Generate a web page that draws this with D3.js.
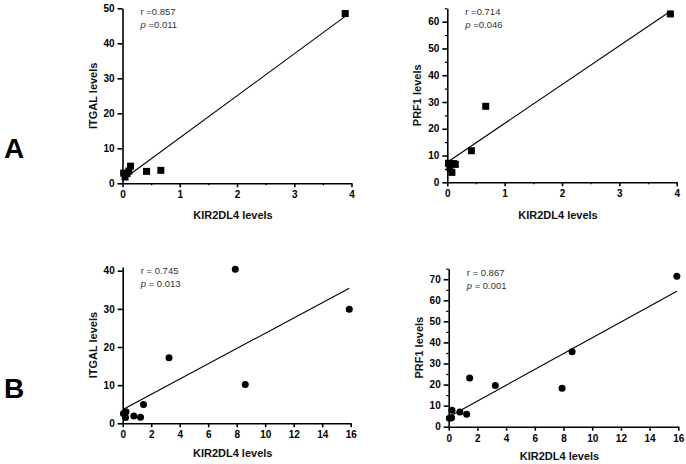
<!DOCTYPE html>
<html>
<head>
<meta charset="utf-8">
<style>
body { margin: 0; background: #fff; }
svg { font-family: "Liberation Sans", Arial, sans-serif; }
.axis .domain, .axis line { stroke: #000; stroke-width: 1.6px; }
.minor line { stroke-width: 1.2px; }
.axis text { font-size: 10px; font-weight: bold; fill: #000; }
.title { font-size: 11px; font-weight: bold; fill: #111; }
.stat { font-size: 9.5px; fill: #333; }
.panel-label { font-size: 28px; font-weight: bold; }
</style>
<script src="https://d3js.org/d3.v7.min.js"></script>
</head>
<body>
<svg width="686" height="464"></svg>
<script>
// row A: KIR2DL4 vs ITGAL / PRF1 (squares)
var aKir   = [0.02, 0.045, 0.08, 0.11, 0.14, 0.42, 0.67, 3.89];
var aItgal = [2.9, 1.8, 2.8, 3.5, 4.9, 3.4, 3.7, 48.5];
var aPrf1  = [7.1, 5.5, 3.7, 7.0, 6.7, 11.8, 28.4, 62.9];

// row B: KIR2DL4 vs ITGAL / PRF1 (circles)
var bKir   = [0.05, 0.2, 0.23, 0.78, 1.25, 1.46, 3.25, 7.9, 8.6, 15.9];
var bItgal = [2.6, 1.5, 3.0, 1.9, 1.6, 4.9, 17.2, 40.4, 10.2, 29.9];
var bPrf1  = [4.0, 4.2, 7.8, 7.0, 5.9, 23.1, 19.6, 18.2, 35.6, 71.4];

// fitted lines [intercept, slope]
var fitAItgal = [1.0, 12.0];
var fitAPrf1  = [7.5, 14.5];
var fitBItgal = [3.6, 2.0];
var fitBPrf1  = [4.7, 3.75];

var statAItgal = ["r =0.857", "p =0.011"];
var statAPrf1  = ["r =0.714", "p =0.046"];
var statBItgal = ["r = 0.745", "p = 0.013"];
var statBPrf1  = ["r = 0.867", "p = 0.001"];

var svg = d3.select("svg");

var panels = [
  {x: aKir, y: aItgal, fit: fitAItgal, stat: statAItgal, ytitle: "ITGAL levels", shape: "square",
   xd: [0, 4], yd: [0, 50], xr: [122.5, 351.5], yr: [183.3, 8.3], xt: d3.range(0, 5, 1), xm: d3.range(0.5, 4, 1),
   yt: d3.range(0, 51, 10), ym: [], xtitleY: 219},
  {x: aKir, y: aPrf1, fit: fitAPrf1, stat: statAPrf1, ytitle: "PRF1 levels", shape: "square",
   xd: [0, 4], yd: [0, 65], xr: [447.3, 676.7], yr: [182.3, 8.3], xt: d3.range(0, 5, 1), xm: d3.range(0.5, 4, 1),
   yt: d3.range(0, 61, 10), ym: d3.range(5, 66, 10), xtitleY: 219},
  {x: bKir, y: bItgal, fit: fitBItgal, stat: statBItgal, ytitle: "ITGAL levels", shape: "circle",
   xd: [0, 16], yd: [0, 41], xr: [122.7, 350.7], yr: [423.3, 266.9], xt: d3.range(0, 17, 2), xm: [],
   yt: d3.range(0, 41, 10), ym: [], xtitleY: 456.5},
  {x: bKir, y: bPrf1, fit: fitBPrf1, stat: statBPrf1, ytitle: "PRF1 levels", shape: "circle",
   xd: [0, 16], yd: [0, 75], xr: [448.7, 678.3], yr: [426.7, 268.7], xt: d3.range(0, 17, 2), xm: [],
   yt: d3.range(0, 71, 10), ym: d3.range(5, 76, 10), xtitleY: 460}
];

panels.forEach(function(p) {
  var x = d3.scaleLinear().domain(p.xd).range(p.xr);
  var y = d3.scaleLinear().domain(p.yd).range(p.yr);
  var g = svg.append("g");

  g.append("g")
      .attr("class", "axis")
      .attr("transform", "translate(0," + p.yr[0] + ")")
      .call(d3.axisBottom(x).tickValues(p.xt).tickFormat(d3.format("d")).tickSize(4).tickSizeOuter(0).tickPadding(4));
  g.append("g")
      .attr("class", "axis minor")
      .attr("transform", "translate(0," + p.yr[0] + ")")
      .call(d3.axisBottom(x).tickValues(p.xm).tickFormat("").tickSize(2).tickSizeOuter(0))
    .select(".domain").remove();

  g.append("g")
      .attr("class", "axis")
      .attr("transform", "translate(" + p.xr[0] + ",0)")
      .call(d3.axisLeft(y).tickValues(p.yt).tickFormat(d3.format("d")).tickSize(5).tickSizeOuter(0).tickPadding(3));
  g.append("g")
      .attr("class", "axis minor")
      .attr("transform", "translate(" + p.xr[0] + ",0)")
      .call(d3.axisLeft(y).tickValues(p.ym).tickFormat("").tickSize(2.5).tickSizeOuter(0))
    .select(".domain").remove();

  var x0 = d3.min(p.x), x1 = d3.max(p.x);
  g.append("line")
      .attr("x1", x(x0)).attr("y1", y(p.fit[0] + p.fit[1] * x0))
      .attr("x2", x(x1)).attr("y2", y(p.fit[0] + p.fit[1] * x1))
      .attr("stroke", "#000")
      .attr("stroke-width", 1.1);

  var pts = d3.zip(p.x, p.y);
  if (p.shape === "square") {
    g.selectAll("rect.pt").data(pts).enter().append("rect")
        .attr("class", "pt")
        .attr("x", function(d) { return x(d[0]) - 3.5; })
        .attr("y", function(d) { return y(d[1]) - 3.5; })
        .attr("width", 7).attr("height", 7)
        .attr("fill", "#000");
  } else {
    g.selectAll("circle.pt").data(pts).enter().append("circle")
        .attr("class", "pt")
        .attr("cx", function(d) { return x(d[0]); })
        .attr("cy", function(d) { return y(d[1]); })
        .attr("r", 3.5)
        .attr("fill", "#000");
  }

  g.append("text")
      .attr("class", "stat")
      .attr("x", p.xr[0] + 18).attr("y", p.yr[1] + 7)
      .text(p.stat[0]);
  var pt = g.append("text")
      .attr("class", "stat")
      .attr("x", p.xr[0] + 18).attr("y", p.yr[1] + 20);
  pt.append("tspan").attr("font-style", "italic").text(p.stat[1].slice(0, 1));
  pt.append("tspan").text(p.stat[1].slice(1));

  g.append("text")
      .attr("class", "title")
      .attr("text-anchor", "middle")
      .attr("x", (p.xr[0] + p.xr[1]) / 2 - 4)
      .attr("y", p.xtitleY)
      .text("KIR2DL4 levels");

  g.append("text")
      .attr("class", "title")
      .attr("text-anchor", "middle")
      .attr("transform", "translate(" + (p.xr[0] - 26) + "," + ((p.yr[0] + p.yr[1]) / 2) + ") rotate(-90)")
      .text(p.ytitle);
});

svg.append("text").attr("class", "panel-label").attr("x", 4).attr("y", 158).text("A");
svg.append("text").attr("class", "panel-label").attr("x", 4).attr("y", 398).text("B");
</script>
</body>
</html>
